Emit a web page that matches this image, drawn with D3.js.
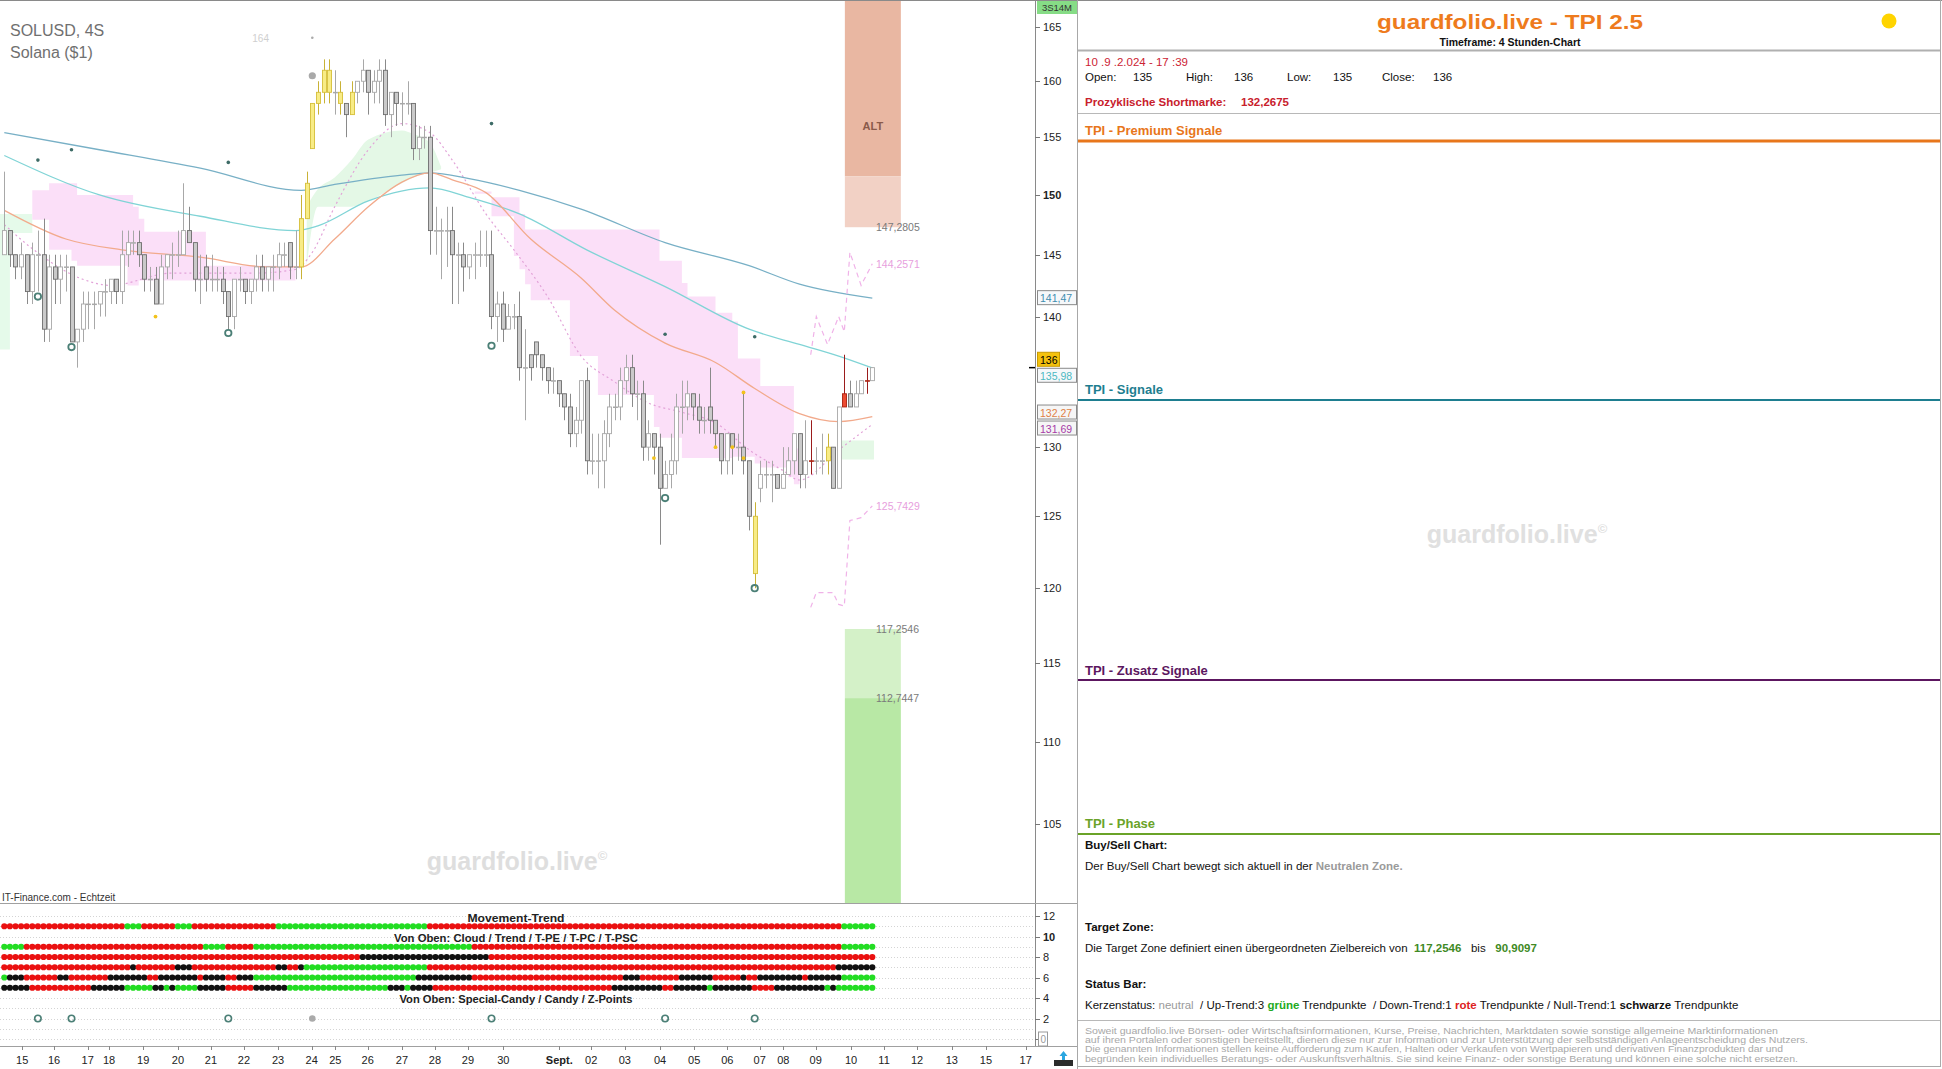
<!DOCTYPE html>
<html><head><meta charset="utf-8">
<script src="https://cdn.jsdelivr.net/npm/d3@7"></script>
<style>
html,body{margin:0;padding:0;background:#fff;}
svg{display:block;font-family:"Liberation Sans",Arial,sans-serif;}
</style></head><body>
<svg id="c" width="1942" height="1069"></svg>
<script>
// ---------------- DATA ----------------
const candleOpen = [145,147,145,144,145,142,145,145,139,144, 143,144,144,138,139,141,141,141,142,142,
 143,142,145,146,146,145,143,143,141,144, 145,145,145,147,146,143,144,143,143,143,
 142,140,143,143,142,143,144,143,144,144, 145,146,144,144,148,154,158,159,161,159,
 159,158,157,159,160,161,159,160,161,157, 159,158,158,158,154,155,155,147,147,147,
 147,145,145,144,145,145,145,145,140,141, 139,140,140,136,137,138,137,136,135,135,
 134,133,131,132,135,129,129,129,131,133, 133,135,136,134,134,130,131,130,127,128,
 129,133,133,134,133,132,133,132,131,129, 131,130,130,129,125,127,128,128,128,127,
 128,129,131,128,129,129,129,129,130,127, 134,134,133,134,135,135];
const candleHigh = [152,147,145,146,145,146,147,148,145,145, 145,145,144,139,142,142,142,142,143,143,
 143,147,147,147,147,145,144,144,145,145, 146,147,151,149,146,145,145,145,144,144,
 142,143,144,143,143,145,145,144,145,146, 146,146,147,150,152,158,160,162,162,161,
 160,158,160,160,162,161,161,162,162,159, 159,159,160,158,156,156,156,149,148,149,
 149,146,146,145,146,147,147,147,142,142, 141,141,142,139,137,138,137,136,136,135,
 134,134,133,135,136,131,131,132,134,134, 136,137,137,135,135,132,131,131,129,131,
 134,135,135,134,134,133,136,132,131,131, 131,131,134,129,126,129,129,129,128,130,
 130,131,131,132,132,130,131,131,130,133, 137,135,135,135,136,136];
const candleLow = [145,144,143,143,141,141,142,138,138,141, 141,142,138,136,138,139,139,140,140,141,
 141,141,144,145,144,142,142,141,141,143, 143,144,145,146,142,141,142,142,142,141,
 139,139,142,141,141,142,142,142,142,143, 144,143,143,143,148,154,157,158,158,157,
 157,155,157,158,159,157,158,158,156,155, 156,156,157,153,153,154,145,145,143,144,
 141,141,142,143,143,144,144,139,138,138, 139,139,135,132,135,136,135,134,134,133,
 132,130,130,131,128,128,127,127,130,132, 132,134,133,132,129,129,128,123,127,127,
 128,131,132,132,131,131,131,130,128,128, 128,129,128,124,120,126,127,126,127,127,
 128,128,127,127,128,128,128,128,127,127, 133,133,133,134,134,135];
const candleClose = [147,145,144,145,142,145,145,139,144,143, 144,144,138,139,141,141,141,142,142,143,
 142,145,146,146,145,143,143,141,144,145, 145,145,147,146,143,143,143,143,143,142,
 140,143,143,142,143,144,143,144,144,145, 145,144,144,148,151,158,159,161,159,159,
 158,157,159,160,161,159,160,161,157,159, 158,158,158,154,155,155,147,147,147,147,
 145,145,144,145,145,145,145,140,141,139, 140,140,136,136,136,137,136,135,135,134,
 133,131,132,135,129,129,129,131,133,133, 135,136,134,134,130,131,130,127,128,129,
 133,133,134,133,132,132,132,131,129,131, 130,130,129,125,121,128,128,128,127,128,
 129,131,128,129,129,129,129,130,127,133, 133,133,134,135,135,136];
const yellowCandles = [53,54,55,56,57,58,60,62,134,147];
const redCandles = [144,150,154];

// moving averages: candle index / value pairs
const maSlowIdx = [0,17,35,53,59,71,76,83,92,103,118,133,142,155];
const maSlowVal = [155.4,153.9,152.3,150.4,150.9,151.7,151.9,151.4,150.4,148.8,146.0,144.1,142.6,141.47];
const maMidIdx = [0,17,35,52,56,65,76,83,92,104,118,133,142,149,155];
const maMidVal = [153.4,150.0,148.2,147.0,147.4,149.5,150.6,149.8,148.4,145.4,142.4,139.0,137.8,136.9,135.98];
const maFastIdx = [0,11,21,35,47,53,59,65,71,76,80,86,94,103,109,118,127,134,142,149,155];
const maFastVal = [148.7,146.3,145.4,144.8,144.0,144.0,146.3,149.0,151.1,151.9,151.3,150.2,146.3,143.1,140.5,137.9,136.4,134.4,132.5,131.9,132.27];
const lagIdx = [0,5,14,19,30,45,52,55,59,65,71,76,80,86,91,97,103,109,115,121,127,133,139,142,149,155];
const lagVal = [147.5,145.5,143.0,142.5,143.5,143.5,143.8,145.2,149.0,153.9,156.2,155.4,153.0,148.4,145.4,141.6,136.9,134.9,133.3,132.6,131.8,129.8,128.3,127.6,129.8,131.69];
// projections
const projUpIdx = [144,145,147,149,150,151,153,155];
const projUpVal = [137.0,140.0,137.8,140.0,138.8,145.2,142.5,144.2571];
const projLoIdx = [144,145,148,149,150,151,153,155];
const projLoVal = [118.7,119.7,119.7,118.9,118.8,124.7,124.9,125.7429];

// clouds
const greenAIdx = [-1,1,5], greenATop = [148.4,148.4,148.4], greenABot = [137.4,146.8,146.8];
const pinkAIdx = [5,8,12,13,22,23,24,25,34,36,52];
const pinkATop = [150.4,151.0,151.0,150.0,150.0,149.0,148.0,146.9,146.9,144.1,144.1];
const pinkABot = [147.9,145.4,144.5,144.1,142.5,142.5,142.9,142.9,142.9,142.9,142.9];
const greenBIdx = [54,56,59,62,65,71,73,76,78];
const greenBTop = [149.0,150.5,151.5,153.0,154.8,155.6,155.3,154.5,152.4];
const greenBBot = [144.1,149.0,149.0,149.0,149.5,151.0,151.5,151.9,152.2];
const pinkBIdx = [84,87,91,92,93,94,101,106,110,116,117,121,122,126,127,130,131,134,135,140,141,142];
const pinkBTop = [150.3,149.8,149.8,148.4,147.1,147.1,147.1,147.1,147.1,147.1,144.5,142.7,141.6,141.6,140.3,139.6,136.7,136.7,134.6,134.6,129.9,129.9];
const pinkBBot = [150.1,148.2,144.9,143.8,142.6,141.3,136.9,133.9,133.9,131.5,130.7,129.2,129.2,129.2,129.2,129.3,129.3,128.8,128.5,127.8,127.3,127.3];
const greenCIdx = [149,155.3], greenCTop = [130.5,130.5], greenCBot = [129.1,129.1];

// zones
const zoneFrom = 150.1, zoneTo = 160.1;
const altTop = 170, altMid = 151.6, altBottom = 147.2805;
const targetTop = 117.2546, targetMid = 112.7447, targetBottom = 90.9097;

// markers
const zPointIdx = [6,12,40,87,118,134];
const zRingPrice = [141.6,137.6,138.7,137.7,126.3,120.0];
const zDotPrice = [153.0,153.9,152.8,156.2,138.6,138.4];
const grayPointIdx = 55, grayPointPrice = 160.5, grayTopPrice = 164.0, grayTopLabel = "164";
const candyIdx = [27,116,127,130,132,132];
const candyPrice = [140.0,129.2,130.0,130.0,134.1,129.2];

// lower panel rows (run lengths per candle: r=red g=green k=black)
const movementRuns = [["r",22],["g",3],["r",6],["g",3],["r",15],["g",27],["r",74],["g",6]];
const cloudRuns = [["g",4],["r",32],["g",4],["r",5],["g",39],["r",66],["g",6]];
const trendRuns = [["r",64],["k",23],["r",69]];
const tpeRuns = [["r",23],["k",1],["r",7],["k",3],["r",15],["k",2],["r",2],["k",1],["g",22],["r",73],["k",7]];
const tpcRuns = [["g",1],["k",3],["r",6],["k",2],["r",7],["k",7],["r",2],["k",7],["r",1],["k",4],["r",2],["k",3],["g",29],["k",10],["r",27],["k",3],["r",7],["k",6],["r",5],["k",1],["r",2],["k",8],["r",1],["k",6],["g",6]];
const tpscRuns = [["k",5],["r",11],["k",6],["g",5],["k",2],["g",1],["k",1],["g",4],["k",5],["r",5],["k",6],["g",18],["k",3],["g",1],["k",4],["r",32],["k",9],["r",2],["k",6],["g",1],["k",7],["r",4],["k",9],["g",1],["k",1],["g",7]];
const rowValues = [11,9,8,7,6,5];

// axes
const xTickLabels = ["15","16","17","18","19","20","21","22","23","24","25","26","27","28","29","30","Sept.","02","03","04","05","06","07","08","09","10","11","12","13","15","17"];
const xTickAt = [3.2,8.9,14.9,18.7,24.8,31.0,36.9,42.8,48.9,54.9,59.1,64.9,71.0,76.9,82.8,89.1,99.1,104.8,110.8,117.1,123.2,129.1,134.9,139.1,144.9,151.2,157.1,163.0,169.2,175.3,182.4];
const yTicks = [105,110,115,120,125,130,140,145,150,155,160,165];
const lowerTicks = [0,2,4,6,8,10,12];
const axisBoxes = [
 {v:141.47, t:"141,47", c:"#3f8db0", f:"#f6f8fa", w:39},
 {v:136, t:"136", c:"#000", f:"#f4c20d", w:22},
 {v:135.98, t:"135,98", c:"#4cb8c2", f:"#f6f8fa", w:39},
 {v:132.27, t:"132,27", c:"#e07f45", f:"#f6f6f6", w:39},
 {v:131.69, t:"131,69", c:"#a63ca6", f:"#f6f6f6", w:39}
];

// ---------------- DRAW ----------------
const svg = d3.select("#c");
const PR = 1035, MB = 903;
const x = d3.scaleLinear().domain([0,155]).range([4.3,872.3]);
const y = d3.scaleLog().domain([100.37,167.55]).range([MB,0]);
const yl = d3.scaleLinear().domain([0,12]).range([1039,916]);

svg.append("defs").append("clipPath").attr("id","mc").append("rect")
  .attr("x",0).attr("y",0).attr("width",PR).attr("height",MB);
const main = svg.append("g").attr("clip-path","url(#mc)");

// zones
function zone(top,bot,fill){
  main.append("rect").attr("x",x(zoneFrom)).attr("width",x(zoneTo)-x(zoneFrom))
    .attr("y",y(top)).attr("height",y(bot)-y(top)).attr("fill",fill);
}
zone(altTop,altMid,"#e9b7a2");
zone(altMid,altBottom,"#f2d1c5");
zone(targetTop,targetMid,"#d4f1c8");
zone(targetMid,targetBottom,"#b8e8a5");
main.append("text").attr("x",(x(zoneFrom)+x(zoneTo))/2).attr("y",130).attr("text-anchor","middle")
  .attr("font-size",11).attr("font-weight","bold").attr("fill","#8a5a4a").text("ALT");

// clouds
function cloud(idx,top,bot,fill,curve){
  const pts = idx.map((d,k)=>({i:d,t:top[k],b:bot[k]}));
  main.append("path").datum(pts).attr("fill",fill)
    .attr("d",d3.area().x(d=>x(d.i)).y0(d=>y(d.b)).y1(d=>y(d.t)).curve(curve));
}
cloud(greenAIdx,greenATop,greenABot,"#e5faea",d3.curveStepAfter);
cloud(pinkAIdx,pinkATop,pinkABot,"#fbdff8",d3.curveStepAfter);
cloud(greenBIdx,greenBTop,greenBBot,"#e4f8e6",d3.curveMonotoneX);
cloud(pinkBIdx,pinkBTop,pinkBBot,"#fbdff8",d3.curveStepAfter);
cloud(greenCIdx,greenCTop,greenCBot,"#e4f8e6",d3.curveStepAfter);

// lines
function series(idx,val,stroke,dash,w,curve){
  const pts = idx.map((d,k)=>[d,val[k]]);
  main.append("path").datum(pts).attr("fill","none").attr("stroke",stroke)
    .attr("stroke-width",w).attr("stroke-dasharray",dash)
    .attr("d",d3.line().x(d=>x(d[0])).y(d=>y(d[1])).curve(curve||d3.curveMonotoneX));
}
series(lagIdx,lagVal,"#e2a2d8","2,3",1.2);
series(maSlowIdx,maSlowVal,"#78b0c6",null,1.3);
series(maMidIdx,maMidVal,"#80d4d6",null,1.3);
series(maFastIdx,maFastVal,"#f2aa8c",null,1.3);
series(projUpIdx,projUpVal,"#f0b2e8","5,4",1.2,d3.curveLinear);
series(projLoIdx,projLoVal,"#f0b2e8","5,4",1.2,d3.curveLinear);

// candles
const candles = candleClose.map((c,i)=>({i,o:candleOpen[i],h:candleHigh[i],l:candleLow[i],c,
  k: yellowCandles.includes(i)?"y":(redCandles.includes(i)?"r":(c<candleOpen[i]?"d":"u"))}));
const cg = main.append("g");
const cx = d=>Math.round(x(d.i))+0.5;
cg.selectAll("line").data(candles).join("line")
  .attr("x1",cx).attr("x2",cx).attr("y1",d=>y(d.h)).attr("y2",d=>y(d.l))
  .attr("stroke",d=>({y:"#c9b236",r:"#9b1c1c",d:"#8a8a8a",u:"#a8a8a8"})[d.k]);
cg.selectAll("rect").data(candles).join("rect")
  .attr("x",d=>cx(d)-2).attr("width",4)
  .attr("y",d=>y(Math.max(d.o,d.c))).attr("height",d=>Math.max(0.6,Math.abs(y(d.o)-y(d.c))))
  .attr("fill",d=>({y:"#f8ec86",r:"#ec4b32",d:"#cacaca",u:"#ffffff"})[d.k])
  .attr("stroke",d=>({y:"#d6bf3a",r:"#a8200f",d:"#6e6e6e",u:"#a8a8a8"})[d.k])
  .attr("stroke-width",0.9);

// markers
main.selectAll("circle.zr").data(zPointIdx).join("circle").attr("cx",d=>x(d))
  .attr("cy",(d,k)=>y(zRingPrice[k])).attr("r",3.2).attr("fill","none").attr("stroke","#4b7f76").attr("stroke-width",1.8);
main.selectAll("circle.zd").data(zPointIdx).join("circle").attr("cx",d=>x(d))
  .attr("cy",(d,k)=>y(zDotPrice[k])).attr("r",1.8).attr("fill","#3d6b66");
main.append("circle").attr("cx",x(grayPointIdx)).attr("cy",y(grayPointPrice)).attr("r",3.6).attr("fill","#a9a9a9");
main.append("circle").attr("cx",x(grayPointIdx)).attr("cy",y(grayTopPrice)).attr("r",1.3).attr("fill","#aaa");
main.append("text").attr("x",x(grayPointIdx)-60).attr("y",y(grayTopPrice)+4).attr("font-size",10)
  .attr("fill","#cfcfcf").text(grayTopLabel);
main.selectAll("circle.cd").data(candyIdx).join("circle").attr("cx",d=>x(d))
  .attr("cy",(d,k)=>y(candyPrice[k])).attr("r",1.9).attr("fill","#f2c21b");

// value labels near zones
const lbl = [[altBottom,"147,2805","#7a7a7a"],[projUpVal[projUpVal.length-1],"144,2571","#e7a0dd"],
  [projLoVal[projLoVal.length-1],"125,7429","#e7a0dd"],[targetTop,"117,2546","#7a7a7a"],[targetMid,"112,7447","#7a7a7a"]];
lbl.forEach(d=>main.append("text").attr("x",876).attr("y",y(d[0])+4).attr("font-size",10.5)
  .attr("fill",d[2]).text(d[1]));

// header texts
svg.append("text").attr("x",10).attr("y",36).attr("font-size",16).attr("fill","#707070").text("SOLUSD, 4S");
svg.append("text").attr("x",10).attr("y",58).attr("font-size",16).attr("fill","#707070").text("Solana ($1)");
const wm = svg.append("text").attr("x",517).attr("y",870).attr("text-anchor","middle")
  .attr("font-size",25).attr("font-weight","bold").attr("fill","#dedede");
wm.append("tspan").text("guardfolio.live");
wm.append("tspan").attr("font-size",13).attr("dy",-10).text("©");
svg.append("text").attr("x",2).attr("y",901).attr("font-size",10).attr("fill","#333").text("IT-Finance.com - Echtzeit");

// frame lines
svg.append("line").attr("x1",0).attr("x2",1942).attr("y1",0.5).attr("y2",0.5).attr("stroke","#8a8a8a");
svg.append("line").attr("x1",PR+0.5).attr("x2",PR+0.5).attr("y1",0).attr("y2",1046).attr("stroke","#8a8a8a");
svg.append("line").attr("x1",0).attr("x2",1078).attr("y1",MB+0.5).attr("y2",MB+0.5).attr("stroke","#a0a0a0");
svg.append("line").attr("x1",0).attr("x2",1078).attr("y1",1046.5).attr("y2",1046.5).attr("stroke","#a0a0a0");
svg.append("line").attr("x1",1077.5).attr("x2",1077.5).attr("y1",0).attr("y2",1069).attr("stroke","#a8a8a8");

// price axis
const ya = svg.append("g");
ya.selectAll("line").data(yTicks).join("line").attr("x1",PR).attr("x2",PR+5)
  .attr("y1",d=>Math.round(y(d))+0.5).attr("y2",d=>Math.round(y(d))+0.5).attr("stroke","#777");
ya.selectAll("text").data(yTicks).join("text").attr("x",PR+8).attr("y",d=>y(d)+4)
  .attr("font-size",11).attr("fill","#222").attr("font-weight",d=>d===150?"bold":"normal").text(d=>d);
svg.append("rect").attr("x",1037).attr("y",1).attr("width",40).attr("height",13).attr("fill","#86dc86");
svg.append("text").attr("x",1057).attr("y",11).attr("text-anchor","middle").attr("font-size",9.5).attr("fill","#333").text("3S14M");
svg.append("line").attr("x1",PR-6).attr("x2",PR).attr("y1",y(136)).attr("y2",y(136)).attr("stroke","#000").attr("stroke-width",1.5);
const bh = 15;
const boxes = axisBoxes.map(b=>({...b, cy:y(b.v)}));
for(let k=0;k<boxes.length-1;k++){
  const a=boxes[k], b=boxes[k+1];
  if(b.cy-a.cy<bh+1){const m=(a.cy+b.cy)/2; a.cy=m-(bh+1)/2; b.cy=m+(bh+1)/2;}
}
boxes.forEach(b=>{
  svg.append("rect").attr("x",1037.5).attr("y",b.cy-bh/2).attr("width",b.w).attr("height",bh-1)
    .attr("fill",b.f).attr("stroke",b.f==="#f4c20d"?"#c89a00":"#8a8a8a").attr("stroke-width",1);
  svg.append("text").attr("x",1040).attr("y",b.cy+4).attr("font-size",10.5).attr("fill",b.c).text(b.t);
});

// lower panel
const lp = svg.append("g");
lp.selectAll("line.g").data(d3.range(0,13)).join("line").attr("x1",0).attr("x2",PR)
  .attr("y1",d=>Math.round(yl(d))+0.5).attr("y2",d=>Math.round(yl(d))+0.5)
  .attr("stroke","#d4d4d4").attr("stroke-dasharray","1,2");
const rowsRuns = [movementRuns,cloudRuns,trendRuns,tpeRuns,tpcRuns,tpscRuns];
const col = {r:"#ea1010",g:"#22dd22",k:"#111111"};
rowsRuns.forEach((runs,ri)=>{
  const arr=[]; runs.forEach(([c,n])=>{for(let q=0;q<n;q++) arr.push(c);});
  lp.append("g").selectAll("circle").data(arr).join("circle")
    .attr("cx",(d,i)=>x(i)).attr("cy",yl(rowValues[ri])).attr("r",3.1).attr("fill",d=>col[d]);
});
lp.selectAll("circle.z").data(zPointIdx).join("circle").attr("cx",d=>x(d)).attr("cy",yl(2))
  .attr("r",3.2).attr("fill","none").attr("stroke","#4b7f76").attr("stroke-width",1.6);
lp.append("circle").attr("cx",x(grayPointIdx)).attr("cy",yl(2)).attr("r",3.3).attr("fill","#aaa");
function ptxt(t,yy,len){lp.append("text").attr("x",516).attr("y",yy).attr("text-anchor","middle")
  .attr("font-size",10.5).attr("font-weight","bold").attr("fill","#222")
  .attr("textLength",len).attr("lengthAdjust","spacingAndGlyphs").text(t);}
ptxt("Movement-Trend",922,97);
ptxt("Von Oben: Cloud / Trend / T-PE / T-PC / T-PSC",942,244);
ptxt("Von Oben: Special-Candy / Candy / Z-Points",1003,233);
lp.selectAll("line.t").data(lowerTicks).join("line").attr("x1",PR).attr("x2",PR+5)
  .attr("y1",d=>Math.round(yl(d))+0.5).attr("y2",d=>Math.round(yl(d))+0.5).attr("stroke","#777");
lp.selectAll("text.t").data(lowerTicks.filter(d=>d>0)).join("text").attr("x",PR+8).attr("y",d=>yl(d)+4)
  .attr("font-size",11).attr("fill","#222").attr("font-weight",d=>d===10?"bold":"normal").text(d=>d);
lp.append("rect").attr("x",1038.5).attr("y",yl(0)-7).attr("width",9).attr("height",14).attr("fill","#fff").attr("stroke","#999");
lp.append("text").attr("x",1040.5).attr("y",yl(0)+4).attr("font-size",10).attr("fill","#999").text("0");

// x axis
const xa = svg.append("g");
xa.selectAll("line").data(xTickAt).join("line").attr("x1",d=>Math.round(x(d))+0.5).attr("x2",d=>Math.round(x(d))+0.5)
  .attr("y1",1046).attr("y2",1050).attr("stroke","#888");
xa.selectAll("text").data(xTickLabels).join("text").attr("x",(d,k)=>x(xTickAt[k])).attr("y",1064)
  .attr("text-anchor","middle").attr("font-size",11).attr("fill","#222")
  .attr("font-weight",d=>d==="Sept."?"bold":"normal").text(d=>d);
svg.append("rect").attr("x",1054).attr("y",1060).attr("width",19).attr("height",6).attr("fill","#2b2b2b");
svg.append("path").attr("d","M1063.5,1051 L1067.5,1056 L1065,1056 L1065,1060 L1062,1060 L1062,1056 L1059.5,1056 Z").attr("fill","#2aa6e0");

// ---------------- RIGHT PANEL ----------------
const rp = svg.append("g");
const RL=1078, RR=1940;
rp.append("line").attr("x1",RR+0.5).attr("x2",RR+0.5).attr("y1",0).attr("y2",1067).attr("stroke","#aaa");
rp.append("line").attr("x1",RL).attr("x2",RR).attr("y1",1066.5).attr("y2",1066.5).attr("stroke","#aaa");
rp.append("text").attr("x",1510).attr("y",29).attr("text-anchor","middle").attr("font-size",21)
  .attr("font-weight","bold").attr("fill","#ee7b1d").attr("textLength",266).attr("lengthAdjust","spacingAndGlyphs")
  .text("guardfolio.live - TPI 2.5");
rp.append("circle").attr("cx",1889).attr("cy",21).attr("r",7.5).attr("fill","#ffd400");
rp.append("text").attr("x",1510).attr("y",46).attr("text-anchor","middle").attr("font-size",10.5)
  .attr("font-weight","bold").attr("fill","#111").text("Timeframe: 4 Stunden-Chart");
function hline(yy,c,w){rp.append("line").attr("x1",RL).attr("x2",RR).attr("y1",yy).attr("y2",yy).attr("stroke",c).attr("stroke-width",w);}
hline(50.5,"#b0b0b0",2);
rp.append("text").attr("x",1085).attr("y",66).attr("font-size",11.5).attr("fill","#cc2233").text("10 .9 .2.024 - 17 :39");
[["Open:",1085],["135",1133],["High:",1186],["136",1234],["Low:",1287],["135",1333],["Close:",1382],["136",1433]]
  .forEach(d=>rp.append("text").attr("x",d[1]).attr("y",81).attr("font-size",11.5).attr("fill","#111").text(d[0]));
rp.append("text").attr("x",1085).attr("y",106).attr("font-size",11.5).attr("font-weight","bold").attr("fill","#c8202c").text("Prozyklische Shortmarke:");
rp.append("text").attr("x",1241).attr("y",106).attr("font-size",11.5).attr("font-weight","bold").attr("fill","#c8202c").text("132,2675");
hline(113.5,"#b8b8b8",1);
const sections = [["TPI - Premium Signale",135,141,"#e8761b",3],["TPI - Signale",394,400,"#1e7e90",2],
  ["TPI - Zusatz Signale",675,680,"#5c1660",2],["TPI - Phase",828,834,"#6aa328",2]];
sections.forEach(s=>{
  rp.append("text").attr("x",1085).attr("y",s[1]).attr("font-size",13).attr("font-weight","bold").attr("fill",s[3]).text(s[0]);
  hline(s[2],s[3],s[4]);
});
function rich(yy,parts,fs){
  const t=rp.append("text").attr("x",1085).attr("y",yy).attr("font-size",fs||11.5).attr("fill","#111").attr("xml:space","preserve");
  parts.forEach(p=>{const s=t.append("tspan").text(p[0]); if(p[1]) s.attr("fill",p[1]); if(p[2]) s.attr("font-weight","bold");});
}
rich(849,[["Buy/Sell Chart:",null,true]]);
rich(870,[["Der Buy/Sell Chart bewegt sich aktuell in der "],["Neutralen Zone.","#9a9a9a",true]]);
rich(931,[["Target Zone:",null,true]]);
rich(952,[["Die Target Zone definiert einen übergeordneten Zielbereich von  "],["117,2546","#3f8a25",true],["   bis   "],["90,9097","#3f8a25",true]]);
rich(988,[["Status Bar:",null,true]]);
rich(1009,[["Kerzenstatus: "],["neutral","#9a9a9a"],["  / Up-Trend:3 "],["grüne","#22aa22",true],[" Trendpunkte  / Down-Trend:1 "],["rote","#dd2222",true],[" Trendpunkte / Null-Trend:1 "],["schwarze",null,true],[" Trendpunkte"]]);
hline(1020.5,"#b8b8b8",1);
const disclaimer = [
 ["Soweit guardfolio.live Börsen- oder Wirtschaftsinformationen, Kurse, Preise, Nachrichten, Marktdaten sowie sonstige allgemeine Marktinformationen",693],
 ["auf ihren Portalen oder sonstigen bereitstellt, dienen diese nur zur Information und zur Unterstützung der selbstständigen Anlageentscheidung des Nutzers.",723],
 ["Die genannten Informationen stellen keine Aufforderung zum Kaufen, Halten oder Verkaufen von Wertpapieren und derivativen Finanzprodukten dar und",698],
 ["begründen kein individuelles Beratungs- oder Auskunftsverhältnis. Sie sind keine Finanz- oder sonstige Beratung und können eine solche nicht ersetzen.",713]];
disclaimer.forEach((d,k)=>rp.append("text").attr("x",1085).attr("y",1034+k*9.2).attr("font-size",8.6)
  .attr("fill","#a8a8a8").attr("textLength",d[1]).attr("lengthAdjust","spacingAndGlyphs").text(d[0]));
const wm2 = rp.append("text").attr("x",1517).attr("y",543).attr("text-anchor","middle")
  .attr("font-size",25).attr("font-weight","bold").attr("fill","#e0e0e0");
wm2.append("tspan").text("guardfolio.live");
wm2.append("tspan").attr("font-size",13).attr("dy",-10).text("©");
</script>
</body></html>
